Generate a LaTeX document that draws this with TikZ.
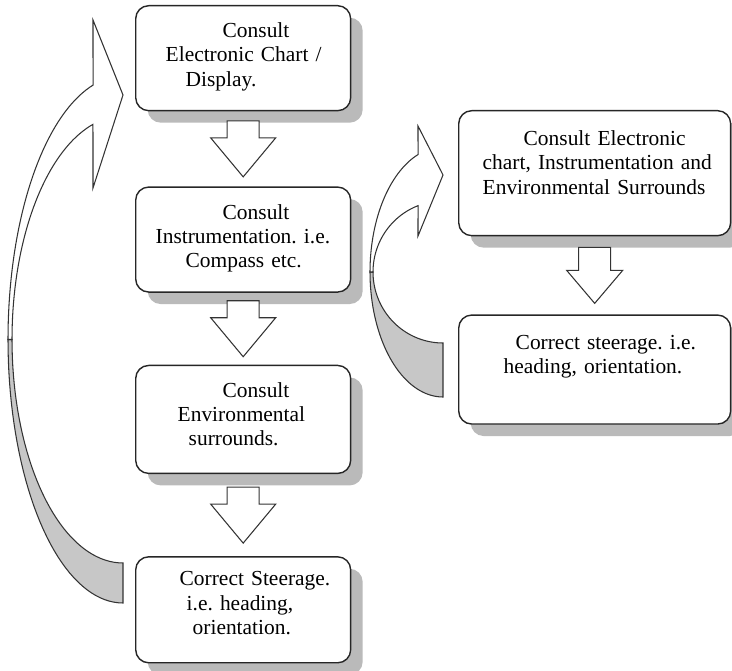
\documentclass[tikz,border=0pt]{standalone}
\usepackage{fontspec}
\setmainfont{Liberation Serif}
\usetikzlibrary{positioning,calc,shadows}
\frenchspacing

\begin{document}
\begin{tikzpicture}[
  x=0.02cm, y=-0.02cm,
  node distance=1.5cm,
  every node/.style={font=\fontsize{12.2}{13.8}\selectfont},
  box/.style={
    draw=black!85,
    line width=0.8pt,
    rounded corners=0.26cm,
    fill=white,
    drop shadow={shadow xshift=0.24cm, shadow yshift=-0.24cm, fill=black!27, opacity=1},
    inner sep=0pt,
    align=left,
    text width=4.3cm,
    text height=0.64cm,
    text depth=1.46cm
  },
  wide/.style={text width=5.44cm},
  blockline/.style={draw=black!80, line width=0.6pt, fill=white},
  backface/.style={draw=black!80, line width=0.6pt, fill=black!22},
  frontface/.style={draw=black!80, line width=0.6pt, fill=white},
  pics/blockdown/.style 2 args={code={
    \draw[blockline] (-16,-28) -- (16,-28) -- (16,{28-#2}) -- (#1,{28-#2})
      -- (0,28) -- (-#1,{28-#2}) -- (-16,{28-#2}) -- cycle;
  }}
]
\useasboundingbox (0,0) rectangle (732,671);

% left column
\node[box, anchor=north west] (chart) at (135,5)
  {\hspace*{1.74cm}Consult\\\hspace*{0.6cm}Electronic Chart /\\\hspace*{1.0cm}Display.};
\node[box, below=1.5cm of chart] (instr)
  {\hspace*{1.74cm}Consult\\\hspace*{0.4cm}Instrumentation. i.e.\\\hspace*{1.0cm}Compass etc.};
\node[box, below=1.44cm of instr, text depth=1.52cm] (env)
  {\hspace*{1.74cm}Consult\\\hspace*{0.84cm}Environmental\\\hspace*{1.06cm}surrounds.};
\node[box, below=1.64cm of env, text height=0.58cm, text depth=1.54cm] (steer)
  {\hspace*{0.88cm}Correct Steerage.\\\hspace*{1.02cm}i.e. heading,\\\hspace*{1.14cm}orientation.};

% right column
\node[box, wide, anchor=north west, text height=0.7cm, text depth=1.8cm] (allinfo) at (458,110)
  {\hspace*{1.3cm}Consult Electronic\\\hspace*{0.48cm}chart, Instrumentation and\\\hspace*{0.48cm}Environmental Surrounds};
\node[box, wide, below=1.56cm of allinfo, text height=0.68cm, text depth=1.5cm] (steer2)
  {\hspace*{1.14cm}Correct steerage. i.e.\\\hspace*{0.9cm}heading, orientation.};

% block arrows down
\pic at ($(chart.south)!0.5!(instr.north)$) {blockdown={32.5}{39}};
\pic at ($(instr.south)!0.5!(env.north)$) {blockdown={32.5}{39}};
\pic at ($(env.south)!0.5!(steer.north)$) {blockdown={32.5}{39}};
\pic at ($(allinfo.south)!0.5!(steer2.north)$) {blockdown={28}{33}};

% curved arrow back to the top (left)
\draw[backface] plot[domain=90:180, samples=40, variable=\t] ({123+115*cos(\t)}, {339.5+263.5*sin(\t)})
  -- plot[domain=180:90, samples=40, variable=\t] ({123+111*cos(\t)}, {339.5+223.5*sin(\t)}) -- cycle;
\draw[frontface] plot[domain=180:254.9, samples=40, variable=\t] ({123+115*cos(\t)}, {339.5+263.5*sin(\t)})
  -- (93,20) -- (123,95) -- (93,188)
  -- plot[domain=254.3:180, samples=40, variable=\t] ({123+111*cos(\t)}, {339.5+223.5*sin(\t)}) -- cycle;

% curved arrow back to the top (right)
\draw[backface] plot[domain=90:180, samples=40, variable=\t] ({443+73*cos(\t)}, {272+125*sin(\t)})
  -- plot[domain=180:90, samples=40, variable=\t] ({443+70*cos(\t)}, {272+71*sin(\t)}) -- cycle;
\draw[frontface] plot[domain=180:250, samples=40, variable=\t] ({443+73*cos(\t)}, {272+125*sin(\t)})
  -- (418,126) -- (443,175) -- (418,236)
  -- plot[domain=249.1:180, samples=40, variable=\t] ({443+70*cos(\t)}, {272+71*sin(\t)}) -- cycle;
\end{tikzpicture}
\end{document}
